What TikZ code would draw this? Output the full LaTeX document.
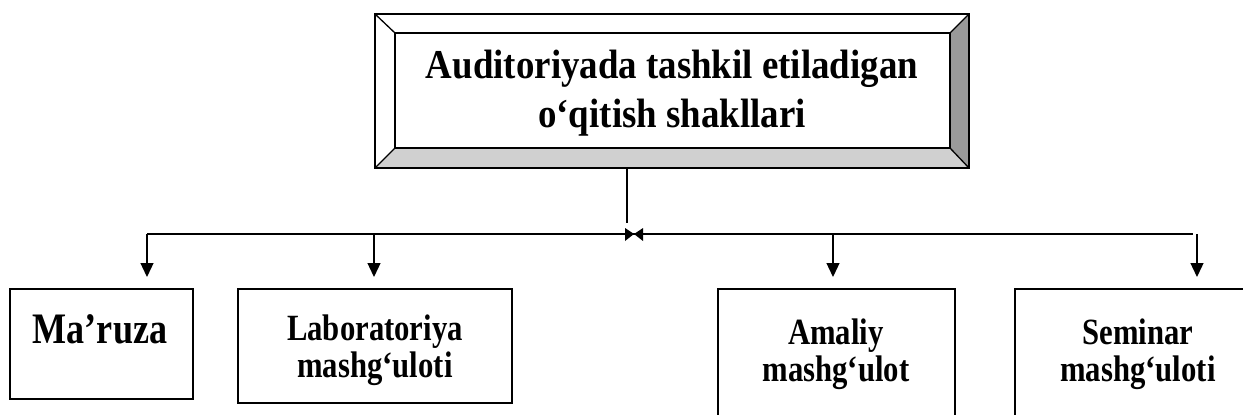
\documentclass[tikz,border=0pt]{standalone}
\usepackage{fontspec}
\setmainfont{Liberation Serif}
\newfontfamily\tallfont[FakeStretch=0.9]{Liberation Serif}
\newfontfamily\tallerfont[FakeStretch=0.83]{Liberation Serif}
\usetikzlibrary{arrows.meta}
\definecolor{bevlight}{HTML}{D0D0D0}
\definecolor{bevdark}{HTML}{9A9A9A}
\begin{document}
\begin{tikzpicture}[x=1pt,y=-1pt,
  line/.style={draw=black,line width=1.3pt},
  bus/.style={draw=black,line width=2pt},
  arr/.style={draw=black,line width=1.3pt,-{Triangle[length=14pt,width=13pt]}},
  box/.style={draw=black,line width=1.3pt,fill=white},
  lbl/.style={align=center,inner sep=0pt},
  small/.style={lbl,font=\tallerfont\fontsize{37}{37}\bfseries}]
\useasboundingbox (0,0) rectangle (1243,415);
\clip (0,0) rectangle (1243,415);
% bevelled title box
\coordinate (o1) at (375,14); \coordinate (o2) at (969,168);
\coordinate (i1) at (395,33); \coordinate (i2) at (950,148);
\fill[white] (375,14) rectangle (969,168);
\fill[bevlight] (375,168) -- (395,148) -- (950,148) -- (969,168) -- cycle;
\fill[bevdark] (969,14) -- (950,33) -- (950,148) -- (969,168) -- cycle;
\draw[line] (o1) rectangle (o2);
\draw[line] (i1) rectangle (i2);
\draw[line] (375,14) -- (395,33);
\draw[line] (969,14) -- (950,33);
\draw[line] (375,168) -- (395,148);
\draw[line] (969,168) -- (950,148);
\node[lbl,font=\tallfont\fontsize{41}{49}\bfseries] (title) at (672,93) {Auditoriyada tashkil etiladigan\\o‘qitish shakllari};
% bottom boxes
\draw[box] (10,289) rectangle (193,399);
\node[lbl,font=\tallerfont\fontsize{43.5}{36}\bfseries] (m) at (100,329) {Ma’ruza};
\draw[box] (238,289) rectangle (512,403);
\node[small] (l) at (375,350) {Laboratoriya\\mashg‘uloti};
\draw[box] (718,289) rectangle (955,430);
\node[small] (a) at (836,354) {Amaliy\\mashg‘ulot};
\draw[box] (1015,289) rectangle (1260,430);
\node[small] (s) at (1138,354) {Seminar\\mashg‘uloti};
% connectors
\coordinate (tb) at (627,168);
\coordinate (te) at (627,223);
\coordinate (b1) at (147,234);
\coordinate (b2) at (374,234);
\coordinate (b3) at (833,234);
\coordinate (b4) at (1197,234);
\coordinate (be) at (1193,234);
\coordinate (t1) at (147,277);
\coordinate (t2) at (374,277);
\coordinate (t3) at (833,277);
\coordinate (t4) at (1197,277);
\draw[line] (tb) -- (te);
\draw[bus] (b1) -- (be);
\draw[arr] (b1) -- (t1);
\draw[arr] (b2) -- (t2);
\draw[arr] (b3) -- (t3);
\draw[arr] (b4) -- (t4);
% bow-tie marker
\fill[black] (625,228) -- (634,234) -- (625,241) -- cycle;
\fill[black] (643,228) -- (634,234) -- (643,241) -- cycle;
\end{tikzpicture}
\end{document}
